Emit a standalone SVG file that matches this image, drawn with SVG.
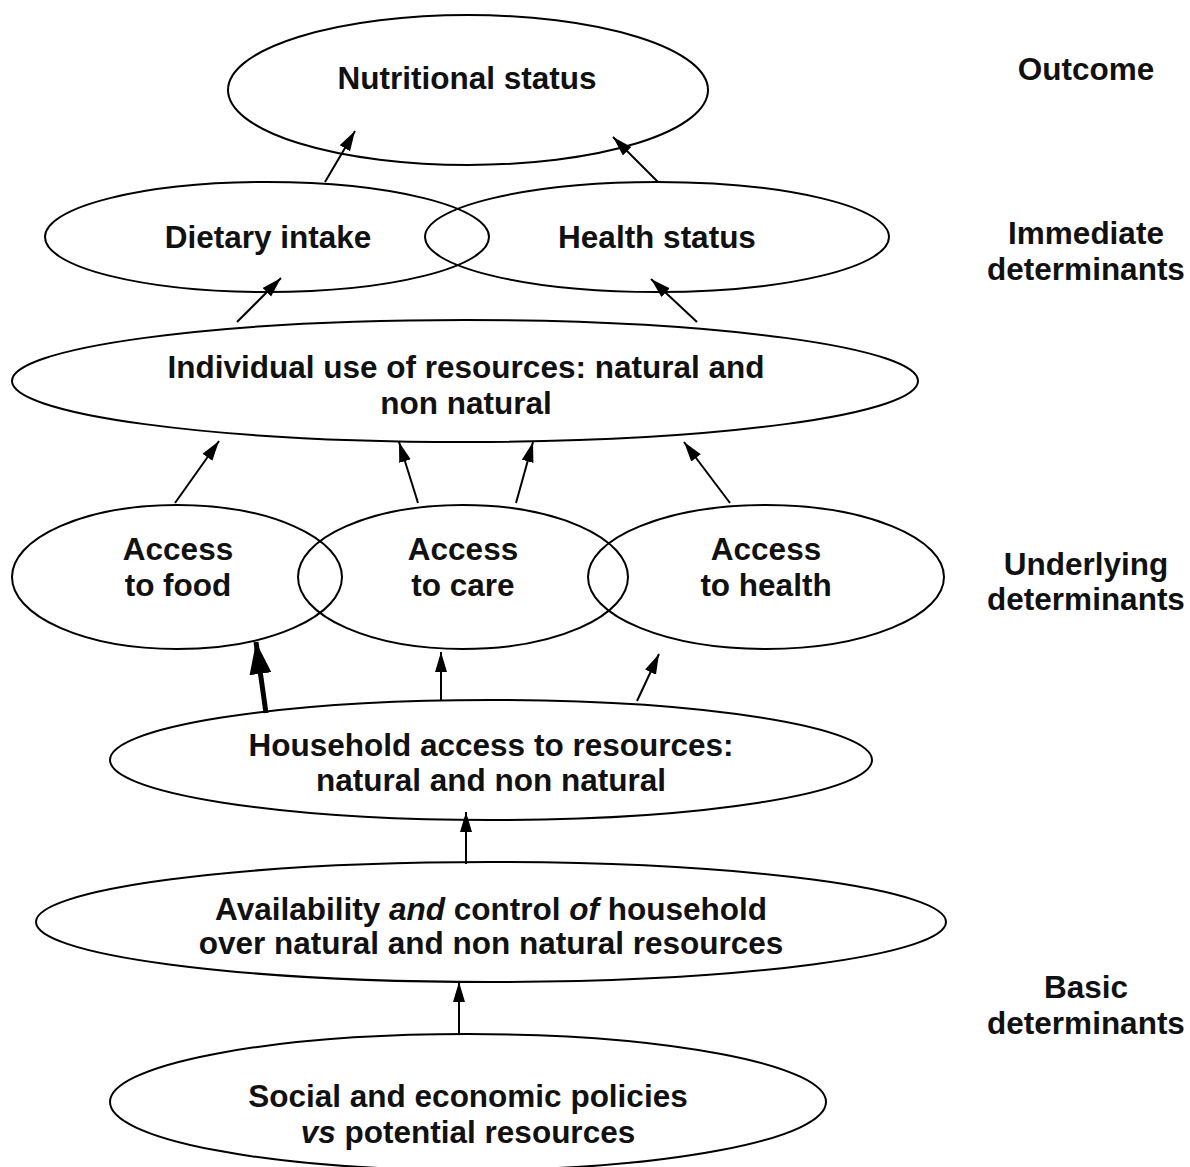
<svg xmlns="http://www.w3.org/2000/svg" width="1190" height="1167" viewBox="0 0 1190 1167">
<defs>
<style>
.n{fill:none;stroke:#000;stroke-width:2}
.t{font-family:"Liberation Sans",Arial,sans-serif;font-weight:bold;font-size:31.5px;fill:#111;text-anchor:middle}
.c{stroke:#000;stroke-width:2;fill:none;marker-end:url(#ah)}
.ct{stroke:#000;stroke-width:5;fill:none;marker-end:url(#ahb)}
</style>
<marker id="ah" markerUnits="userSpaceOnUse" markerWidth="22" markerHeight="14" refX="20" refY="7" orient="auto"><path d="M0,1 L20,7 L0,13 Z" fill="#000"/></marker>
<marker id="ahb" markerUnits="userSpaceOnUse" markerWidth="34" markerHeight="26" refX="32" refY="13" orient="auto"><path d="M0,2 L32,13 L0,24 Z" fill="#000"/></marker>
</defs>
<rect width="1190" height="1167" fill="#fff"/>
<g id="connectors">
<line class="c" x1="325" y1="182" x2="355" y2="131"/>
<line class="c" x1="658" y1="182" x2="613" y2="137"/>
<line class="c" x1="237" y1="322" x2="281" y2="278"/>
<line class="c" x1="697" y1="322" x2="651" y2="279"/>
<line class="c" x1="175" y1="503" x2="219" y2="441"/>
<line class="c" x1="418" y1="503" x2="399" y2="442"/>
<line class="c" x1="516" y1="503" x2="533" y2="442"/>
<line class="c" x1="730" y1="503" x2="684" y2="442"/>
<line class="ct" x1="266" y1="713" x2="256" y2="642"/>
<line class="c" x1="441" y1="700" x2="441" y2="652"/>
<line class="c" x1="637" y1="701" x2="659" y2="654"/>
<line class="c" x1="466" y1="864" x2="466" y2="812"/>
<line class="c" x1="459" y1="1035" x2="459" y2="982"/>
</g>
<g id="nutritional"><ellipse class="n" cx="468" cy="90" rx="240" ry="75"/><text class="t" x="467" y="89">Nutritional status</text></g>
<g id="dietary"><ellipse class="n" cx="267" cy="237" rx="222" ry="55"/><text class="t" x="268" y="248">Dietary intake</text></g>
<g id="health-status"><ellipse class="n" cx="657" cy="237" rx="232" ry="55"/><text class="t" x="657" y="248">Health status</text></g>
<g id="individual"><ellipse class="n" cx="465" cy="381" rx="453" ry="61"/><text class="t" x="466" y="378">Individual use of resources: natural and</text><text class="t" x="466" y="414">non natural</text></g>
<g id="food"><ellipse class="n" cx="177" cy="577" rx="165" ry="72"/><text class="t" x="178" y="560">Access</text><text class="t" x="178" y="596">to food</text></g>
<g id="care"><ellipse class="n" cx="463" cy="577" rx="165" ry="72"/><text class="t" x="463" y="560">Access</text><text class="t" x="463" y="596">to care</text></g>
<g id="access-health"><ellipse class="n" cx="766" cy="577" rx="178" ry="72"/><text class="t" x="766" y="560">Access</text><text class="t" x="766" y="596">to health</text></g>
<g id="household"><ellipse class="n" cx="491" cy="760" rx="381" ry="60"/><text class="t" x="491" y="756">Household access to resources:</text><text class="t" x="491" y="791">natural and non natural</text></g>
<g id="availability"><ellipse class="n" cx="491" cy="922" rx="455" ry="60"/><text class="t" x="491" y="920">Availability <tspan font-style="italic">and</tspan> control <tspan font-style="italic">of</tspan> household</text><text class="t" x="491" y="954">over natural and non natural resources</text></g>
<g id="social"><ellipse class="n" cx="468" cy="1102" rx="358" ry="68"/><text class="t" x="468" y="1107">Social and economic policies</text><text class="t" x="468" y="1143"><tspan font-style="italic">vs</tspan> potential resources</text></g>
<g id="levels">
<text class="t" x="1086" y="80">Outcome</text>
<text class="t" x="1086" y="244">Immediate</text><text class="t" x="1086" y="280">determinants</text>
<text class="t" x="1086" y="575">Underlying</text><text class="t" x="1086" y="610">determinants</text>
<text class="t" x="1086" y="998">Basic</text><text class="t" x="1086" y="1034">determinants</text>
</g>
</svg>
